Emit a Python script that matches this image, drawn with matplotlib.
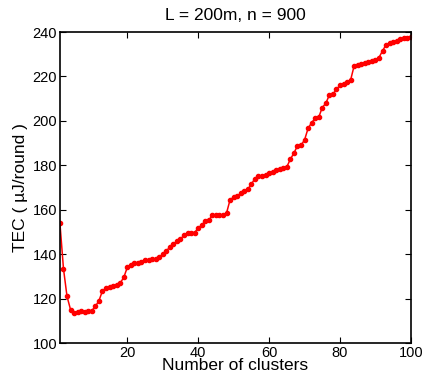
import matplotlib
matplotlib.use("Agg")
import matplotlib.pyplot as plt

# number of clusters
clusters = list(range(1, 101))

# TEC values (uJ/round)
tec = [154.0, 133.5, 121.0, 115.0, 113.6, 114.0, 114.6, 114.0, 114.5, 114.6,
       116.5, 119.0, 123.5, 124.6, 125.2, 125.5, 125.9, 127.0, 129.5, 134.0,
       135.0, 135.8, 136.2, 136.5, 137.2, 137.5, 137.6, 137.6, 138.5, 140.0,
       141.6, 143.0, 144.5, 145.7, 146.8, 148.5, 149.5, 149.7, 149.7, 151.8,
       153.0, 155.0, 155.2, 157.6, 157.6, 157.6, 157.8, 158.5, 164.5, 165.6,
       166.0, 167.5, 168.3, 169.2, 171.5, 174.0, 175.0, 175.4, 175.8, 176.5,
       177.0, 177.7, 178.3, 178.8, 179.3, 182.7, 185.5, 188.7, 189.0, 191.4,
       196.6, 199.2, 201.1, 201.6, 206.0, 207.9, 211.6, 212.0, 214.2, 216.0,
       216.8, 217.5, 218.4, 224.8, 225.2, 225.6, 226.0, 226.5, 227.0, 227.5,
       228.5, 231.5, 234.3, 235.0, 235.5, 235.8, 237.0, 237.2, 237.4, 237.8]

xticks = [20, 40, 60, 80, 100]
yticks = [100, 120, 140, 160, 180, 200, 220, 240]

plt.rcParams['font.family'] = ['Liberation Sans', 'DejaVu Sans']

fig = plt.figure(figsize=(4.28, 3.81), dpi=100)
ax = fig.add_axes([0.140, 0.0997, 0.820, 0.8163])

ax.plot(clusters, tec, color='red', linewidth=1.1, marker='.', markersize=6)

ax.set_xlim(1, 100)
ax.set_ylim(100, 240)
ax.set_xticks(xticks)
ax.set_yticks(yticks)
ax.tick_params(direction='in', length=4, width=0.8, top=True, right=True,
               labelsize=10.5, pad=2)
for s in ax.spines.values():
    s.set_linewidth(1.2)

ax.set_title("L = 200m, n = 900", fontsize=12.5, pad=9)
ax.set_xlabel("Number of clusters", fontsize=12.5, labelpad=-1)
ax.set_ylabel("TEC ( \u00b5J/round )", fontsize=12.5, labelpad=3)

fig.savefig("out.png", dpi=100)
